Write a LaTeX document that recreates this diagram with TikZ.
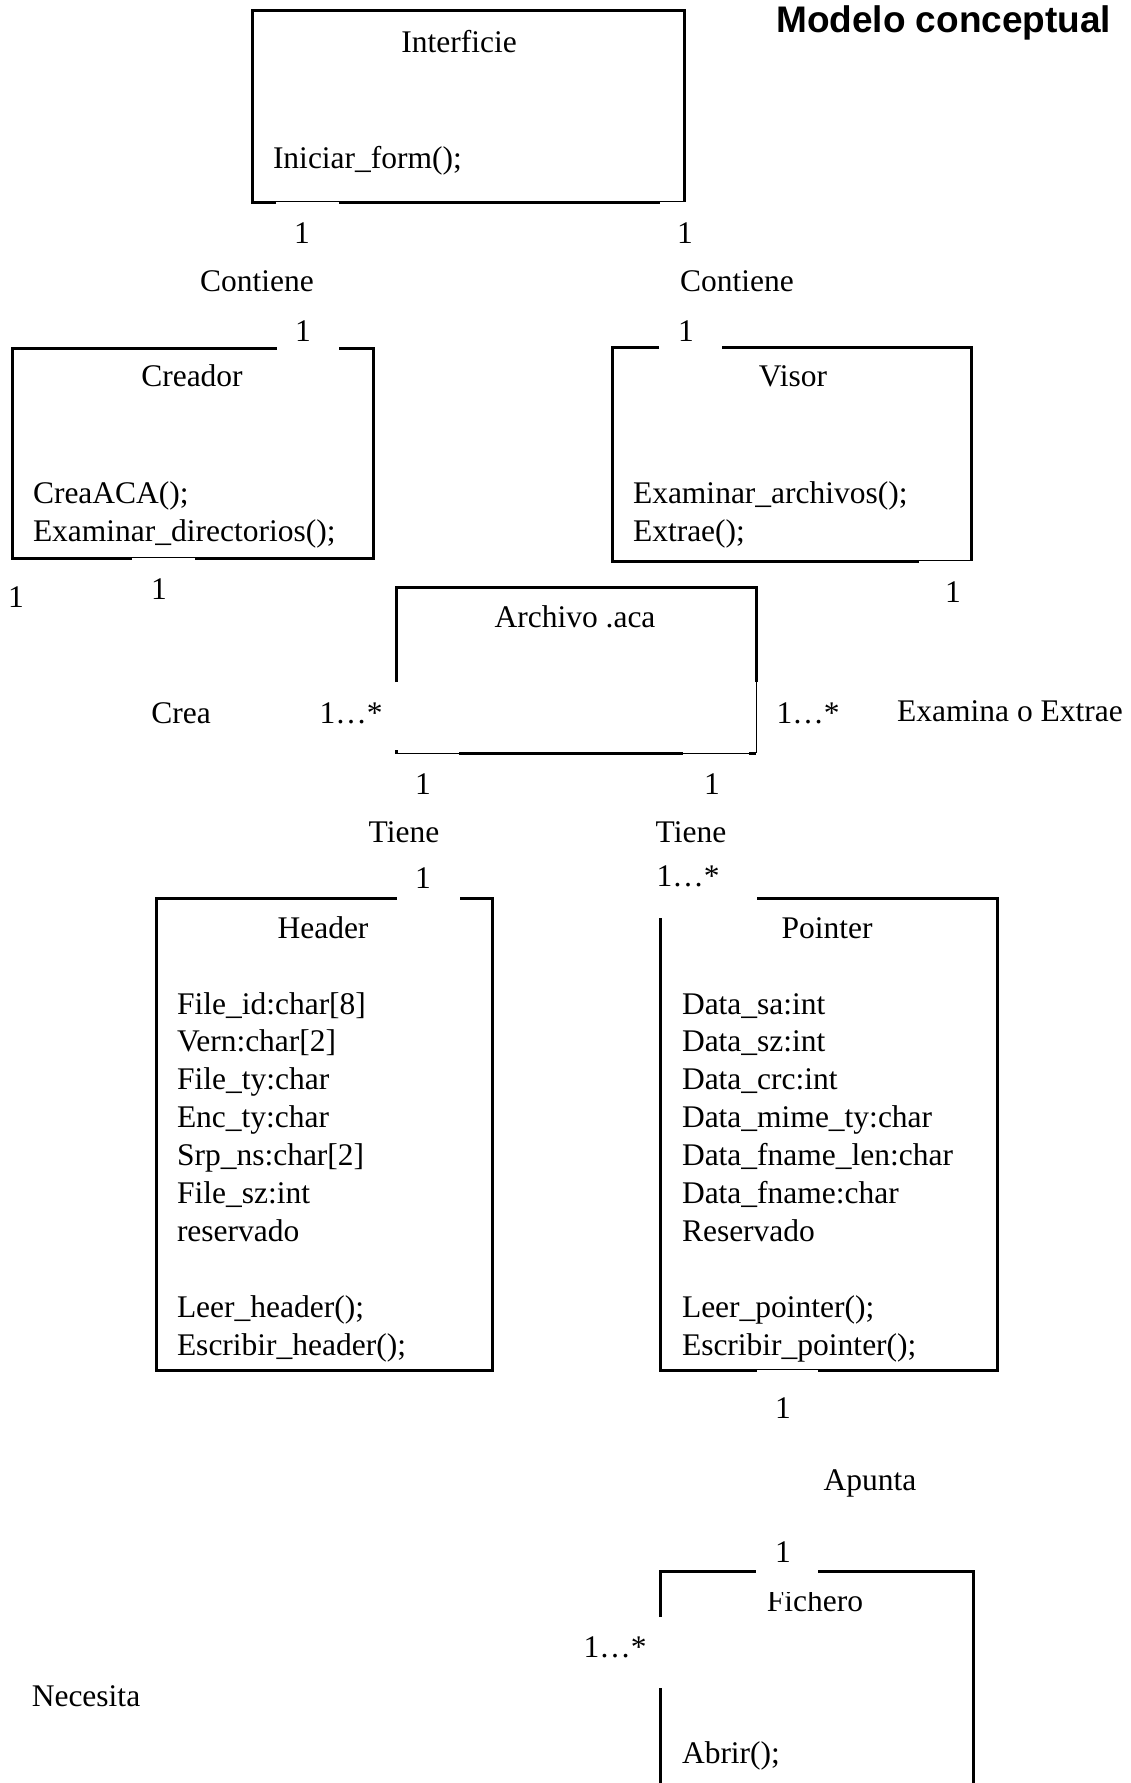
\documentclass[tikz,border=0pt]{standalone}
\usepackage{fontspec}
\setmainfont{Liberation Serif}
\newfontfamily\titlefont{Liberation Sans}
\begin{document}
\begin{tikzpicture}[x=1pt,y=-1pt,
  lbl/.style={font=\fontsize{31.5}{37.7}\selectfont, inner sep=0pt, outer sep=0pt},
  ttl/.style={font=\titlefont\bfseries\fontsize{37}{44}\selectfont, inner sep=0pt},
  box/.style={line width=3pt, line join=miter},
  thinl/.style={line width=0.8pt}]
\useasboundingbox (0,0) rectangle (1130,1783);

% Title
\node[ttl, anchor=base west] (title) at (776,32) {Modelo conceptual};

% Interficie
\draw[box] (276,202) -- (252,202) -- (252,10) -- (684,10) -- (684,202);
\draw[box] (339,202) -- (660,202);
\draw[thinl] (276,201) -- (339,201) (660,201) -- (684,201);
\node[lbl, anchor=base] (intT) at (459,52) {Interficie};
\node[lbl, anchor=base west] (intM) at (273,168) {Iniciar\_form();};

\node[lbl, anchor=base] (m1) at (302,243) {1};
\node[lbl, anchor=base] (m2) at (685,243) {1};
\node[lbl, anchor=base] (c1) at (257,291) {Contiene};
\node[lbl, anchor=base] (c2) at (737,291) {Contiene};
\node[lbl, anchor=base] (m3) at (303,341) {1};
\node[lbl, anchor=base] (m4) at (686,341) {1};

% Creador
\draw[box] (277,348) -- (12,348) -- (12,558) -- (132,558);
\draw[box] (195,558) -- (373,558) -- (373,348) -- (339,348);
\draw[thinl] (132,557) -- (195,557);
\node[lbl, anchor=base] (creT) at (192,386) {Creador};
\node[lbl, anchor=base west] (creM1) at (33,503) {CreaACA();};
\node[lbl, anchor=base west] (creM2) at (33,541) {Examinar\_directorios();};

% Visor
\draw[box] (659,347) -- (612,347) -- (612,561) -- (919,561);
\draw[box] (722,347) -- (971,347) -- (971,561);
\draw[thinl] (919,560) -- (971,560);
\node[lbl, anchor=base] (visT) at (793,386) {Visor};
\node[lbl, anchor=base west] (visM1) at (633,503) {Examinar\_archivos();};
\node[lbl, anchor=base west] (visM2) at (633,541) {Extrae();};

\node[lbl, anchor=base] (m5) at (16,607) {1};
\node[lbl, anchor=base] (m6) at (159,599) {1};
\node[lbl, anchor=base] (m7) at (953,602) {1};

% Archivo .aca
\draw[box] (396,682) -- (396,587) -- (756,587) -- (756,682);
\draw[thinl] (756,682) -- (756,753);
\draw[box] (459,753) -- (683,753);
\draw[thinl] (396,753) -- (459,753) (683,753) -- (756,753);
\draw[box] (749,753) -- (756,753);
\draw[box] (396,750) -- (396,754);
\node[lbl, anchor=base] (arcT) at (575,627) {Archivo .aca};

\node[lbl, anchor=base] (crea) at (181,723) {Crea};
\node[lbl, anchor=base] (m8) at (351,723) {1…*};
\node[lbl, anchor=base] (m9) at (808,723) {1…*};
\node[lbl, anchor=base] (exa) at (1010,721) {Examina o Extrae};

\node[lbl, anchor=base] (m10) at (423,794) {1};
\node[lbl, anchor=base] (m11) at (712,794) {1};
\node[lbl, anchor=base] (t1) at (404,842) {Tiene};
\node[lbl, anchor=base] (t2) at (691,842) {Tiene};
\node[lbl, anchor=base] (m12) at (423,888) {1};
\node[lbl, anchor=base] (m13) at (688,886) {1…*};

% Header
\draw[box] (397,898) -- (156,898) -- (156,1370) -- (492,1370) -- (492,898) -- (460,898);
\node[lbl, anchor=base] (hdT) at (323,938) {Header};
\node[lbl, anchor=base west] (h1) at (177,1014) {File\_id:char[8]};
\node[lbl, anchor=base west] (h2) at (177,1051.9) {Vern:char[2]};
\node[lbl, anchor=base west] (h3) at (177,1089.8) {File\_ty:char};
\node[lbl, anchor=base west] (h4) at (177,1127.7) {Enc\_ty:char};
\node[lbl, anchor=base west] (h5) at (177,1165.6) {Srp\_ns:char[2]};
\node[lbl, anchor=base west] (h6) at (177,1203.5) {File\_sz:int};
\node[lbl, anchor=base west] (h7) at (177,1241.4) {reservado};
\node[lbl, anchor=base west] (h8) at (177,1317.2) {Leer\_header();};
\node[lbl, anchor=base west] (h9) at (177,1355.1) {Escribir\_header();};

% Pointer
\draw[box] (660,918) -- (660,1370) -- (757,1370);
\draw[box] (818,1370) -- (997,1370) -- (997,898) -- (757,898);
\draw[thinl] (757,1369) -- (818,1369);
\node[lbl, anchor=base] (ptT) at (827,938) {Pointer};
\node[lbl, anchor=base west] (p1) at (682,1014) {Data\_sa:int};
\node[lbl, anchor=base west] (p2) at (682,1051.9) {Data\_sz:int};
\node[lbl, anchor=base west] (p3) at (682,1089.8) {Data\_crc:int};
\node[lbl, anchor=base west] (p4) at (682,1127.7) {Data\_mime\_ty:char};
\node[lbl, anchor=base west] (p5) at (682,1165.6) {Data\_fname\_len:char};
\node[lbl, anchor=base west] (p6) at (682,1203.5) {Data\_fname:char};
\node[lbl, anchor=base west] (p7) at (682,1241.4) {Reservado};
\node[lbl, anchor=base west] (p8) at (682,1317.2) {Leer\_pointer();};
\node[lbl, anchor=base west] (p9) at (682,1355.1) {Escribir\_pointer();};

\node[lbl, anchor=base] (m14) at (783,1418) {1};
\node[lbl, anchor=base] (apu) at (870,1490) {Apunta};
\node[lbl, anchor=base] (m15) at (783,1562) {1};

% Fichero
\draw[box] (660,1617) -- (660,1571) -- (756,1571);
\draw[box] (818,1571) -- (973,1571) -- (973,1790);
\draw[box] (660,1688) -- (660,1790);
\begin{scope}
  \clip (700,1592) rectangle (930,1630);
  \node[lbl, anchor=base] (ficT) at (815,1611) {Fichero};
\end{scope}
\node[lbl, anchor=base] (m16) at (615,1657) {1…*};
\node[lbl, anchor=base west] (ficM) at (682,1763) {Abrir();};

\node[lbl, anchor=base] (nec) at (86,1706) {Necesita};
\end{tikzpicture}
\end{document}
